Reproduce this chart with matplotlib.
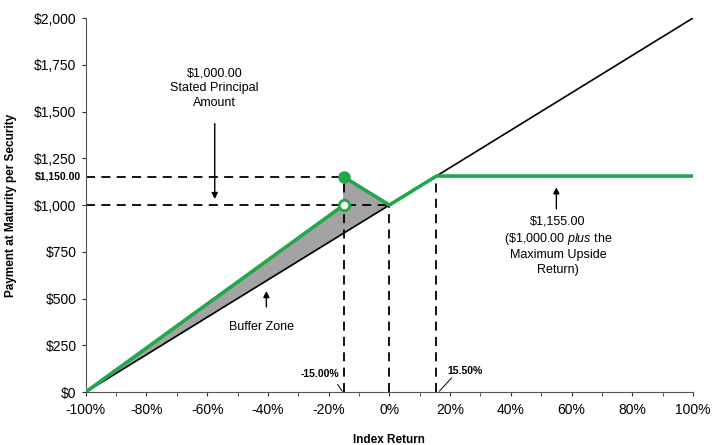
import matplotlib.pyplot as plt
import numpy as np
from matplotlib.ticker import FuncFormatter, MultipleLocator

plt.rcParams['font.family'] = ['Liberation Sans', 'DejaVu Sans']
plt.rcParams['mathtext.fontset'] = 'custom'
plt.rcParams['mathtext.it'] = 'Liberation Sans:italic'
plt.rcParams['mathtext.rm'] = 'Liberation Sans'

green = '#21a84a'

# index return (%) and payment ($)
idx_down = [-100, -15]
pay_down = [0, 1000]
idx_up = [-15, 0, 15.5, 100]
pay_up = [1150, 1000, 1155, 1155]
idx_line = [-100, 100]
pay_line = [0, 2000]

buffer_lvl = -15
cap_lvl = 15.5
cap_pay = 1155
principal = 1000
buffer_pay = 1150

fig = plt.figure(figsize=(7.2, 4.45), dpi=100)
ax = fig.add_axes([0.119, 0.119, 0.8435, 0.8405])

# buffer zone (grey), between payoff and index line
poly_x = idx_down + idx_up[:2] + [0, -100]
poly_y = pay_down + pay_up[:2] + [1000, 0]
ax.fill(poly_x, poly_y, color='#a3a3a3', zorder=1)

ax.plot(idx_line, pay_line, color='black', lw=1.2, zorder=2)

# dashed guide lines
dash = dict(color='black', lw=1.3, ls=(0, (5, 3.5)), zorder=2)
ax.plot([-100, buffer_lvl], [buffer_pay, buffer_pay], **dash)
ax.plot([-100, 0], [principal, principal], **dash)
ax.plot([buffer_lvl, buffer_lvl], [0, buffer_pay], **dash)
ax.plot([0, 0], [0, principal], **dash)
ax.plot([cap_lvl, cap_lvl], [0, cap_pay], **dash)

ax.plot(idx_down, pay_down, color=green, lw=2.6, zorder=3, solid_capstyle='butt')
ax.plot(idx_up, pay_up, color=green, lw=2.6, zorder=3, solid_capstyle='butt')
ax.plot([buffer_lvl], [buffer_pay], 'o', ms=8, color=green, zorder=4)
ax.plot([buffer_lvl], [principal], 'o', ms=7.5, mfc='white', mec=green, mew=2, zorder=4)

ax.set_xlim(-100, 100)
ax.set_ylim(0, 2000)
ax.xaxis.set_major_locator(MultipleLocator(20))
ax.xaxis.set_minor_locator(MultipleLocator(10))
ax.xaxis.set_major_formatter(FuncFormatter(lambda v, p: f'{v:.0f}%'))
ax.set_yticks(np.arange(0, 2001, 250))
ax.yaxis.set_major_formatter(FuncFormatter(lambda v, p: f'${v:,.0f}'))
ax.tick_params(axis='both', labelsize=10, colors='#333333', labelcolor='black', length=3)
ax.tick_params(axis='x', which='minor', length=3, color='#333333')
ax.tick_params(axis='x', pad=5)
for s in ['top', 'right']:
    ax.spines[s].set_visible(False)
for s in ['left', 'bottom']:
    ax.spines[s].set_color('#555555')

# extra bold tick label at $1,150
ax.text(-101.5, buffer_pay, '$1,150.00', ha='right', va='center',
        fontsize=7.5, fontweight='bold')

ax.set_xlabel('Index Return', fontsize=8.5, fontweight='bold', labelpad=12)
ax.set_ylabel('Payment at Maturity per Security', fontsize=8.5, fontweight='bold', labelpad=12)

arrow = dict(arrowstyle='-|>', color='black', lw=1, mutation_scale=9)
ax.annotate('', xy=(-57.5, 1017), xytext=(-57.5, 1450), arrowprops=arrow)
ax.text(-57.5, 1625, '$1,000.00\nStated Principal\nAmount', ha='center', va='center',
        fontsize=9, linespacing=1.3)

ax.annotate('', xy=(-40.5, 555), xytext=(-40.5, 440), arrowprops=arrow)
ax.text(-42, 350, 'Buffer Zone', ha='center', va='center', fontsize=9)

ax.annotate('', xy=(55, 1110), xytext=(55, 965), arrowprops=arrow)
ax.text(55.5, 945, '\\$1,155.00\n(\\$1,000.00 $\\it{plus}$ the\nMaximum Upside\nReturn)',
        ha='center', va='top', fontsize=9, linespacing=1.3)

ax.text(-16.5, 95, '-15.00%', ha='right', va='center', fontsize=7.5, fontweight='bold')
ax.plot([-17, -15.5], [40, 5], color='black', lw=0.7)
ax.text(19, 115, '15.50%', ha='left', va='center', fontsize=7.5, fontweight='bold')
ax.plot([20.5, 16.5], [75, 5], color='black', lw=0.7)

fig.savefig('out.png', dpi=100)
